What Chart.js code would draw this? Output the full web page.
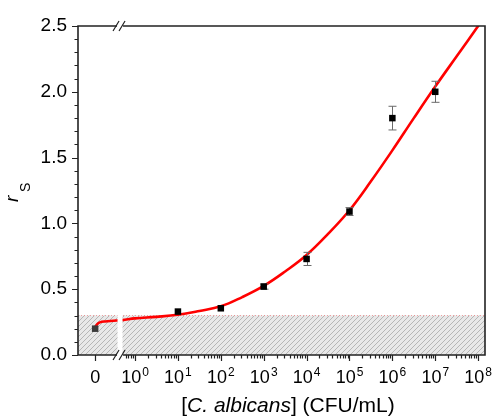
<!DOCTYPE html>
<html><head><meta charset="utf-8">
<script src="https://cdn.jsdelivr.net/npm/chart.js@4/dist/chart.umd.min.js"></script>
<style>html,body{margin:0;padding:0;background:#fff}</style>
</head><body>
<canvas id="c" width="492" height="418"></canvas>
<script>
// ---- data ----
const concentrations = [0, 1e1, 1e2, 1e3, 1e4, 1e5, 1e6, 1e7];      // CFU/mL
const rsValues       = [0.20, 0.33, 0.355, 0.52, 0.73, 1.09, 1.80, 2.00];
const rsErrors       = [0.00, 0.00, 0.00, 0.02, 0.05, 0.03, 0.09, 0.08];
const fitPositions   = [-0.93, -0.88, -0.82, -0.7, -0.5, -0.3, 0, 0.5, 1, 1.5, 2, 2.5, 3, 3.5, 4, 4.5, 5, 5.5, 6, 6.5, 7, 7.5, 8, 8.3]; // log10(conc) axis position
const fitValues      = [0.21, 0.235, 0.248, 0.255, 0.26, 0.265, 0.278, 0.29, 0.306, 0.335, 0.37, 0.44, 0.525, 0.635, 0.76, 0.92, 1.10, 1.32, 1.555, 1.80, 2.04, 2.27, 2.50, 2.64];
const xTickBases     = ['0', '10', '10', '10', '10', '10', '10', '10', '10', '10'];
const xTickExponents = ['', '0', '1', '2', '3', '4', '5', '6', '7', '8'];
const xTickPositions = [-0.93, 0, 1, 2, 3, 4, 5, 6, 7, 8];
const yTickValues    = [0, 0.5, 1.0, 1.5, 2.0, 2.5];
const lodLevel = 0.30;          // shaded background level
const zeroPos = -0.93;          // axis position used for concentration 0
const breakPos = -0.35;         // axis break position
const xMin = -1.33, xMax = 8.16;

const FONT = "'Liberation Sans', Arial, Helvetica, sans-serif";
const toPos = c => c === 0 ? zeroPos : Math.log10(c);

function hatch() {
  const s = 5, c = document.createElement('canvas');
  c.width = s; c.height = s;
  const g = c.getContext('2d');
  g.fillStyle = '#e8e8e8'; g.fillRect(0, 0, s, s);
  g.strokeStyle = '#b0b0b0'; g.lineWidth = 0.9;
  g.beginPath();
  g.moveTo(0, s); g.lineTo(s, 0);
  g.moveTo(-1, 1); g.lineTo(1, -1);
  g.moveTo(s - 1, s + 1); g.lineTo(s + 1, s - 1);
  g.stroke();
  return g.createPattern(c, 'repeat');
}

const decor = {
  id: 'decor',
  beforeDatasetDraw(chart, args) {
    if (args.index !== 2) return;
    const {ctx, scales: {x, y}} = chart;
    ctx.save();
    ctx.strokeStyle = '#6a6a6a'; ctx.lineWidth = 1;
    concentrations.forEach((c, i) => {
      if (!rsErrors[i]) return;
      const px = Math.round(x.getPixelForValue(toPos(c))) + 0.5;
      const y1 = y.getPixelForValue(rsValues[i] + rsErrors[i]);
      const y2 = y.getPixelForValue(rsValues[i] - rsErrors[i]);
      ctx.beginPath();
      ctx.moveTo(px, y1); ctx.lineTo(px, y2);
      ctx.moveTo(px - 4, y1); ctx.lineTo(px + 4, y1);
      ctx.moveTo(px - 4, y2); ctx.lineTo(px + 4, y2);
      ctx.stroke();
    });
    ctx.restore();
  },
  afterDatasetsDraw(chart) {
    const {ctx, chartArea: a, scales: {x, y}} = chart;
    const bx = x.getPixelForValue(breakPos);
    ctx.save();
    // gap in shading / curve at the break
    ctx.fillStyle = '#fff';
    ctx.fillRect(bx - 2.5, y.getPixelForValue(lodLevel) - 1, 5, a.bottom - y.getPixelForValue(lodLevel) + 1);
    // frame
    ctx.strokeStyle = '#222'; ctx.lineWidth = 1.6;
    ctx.beginPath();
    ctx.moveTo(a.left, a.top); ctx.lineTo(a.right, a.top); ctx.lineTo(a.right, a.bottom); ctx.lineTo(a.left, a.bottom); ctx.closePath();
    ctx.stroke();
    // y ticks
    ctx.lineWidth = 1.2;
    ctx.beginPath();
    for (let k = 0; k <= 25; k++) {
      const v = k / 10, py = Math.round(y.getPixelForValue(v)) + 0.5;
      const len = (k % 5 === 0) ? 6 : 3.5;
      ctx.moveTo(a.left, py); ctx.lineTo(a.left - len, py);
    }
    // x major ticks
    xTickPositions.forEach(p => {
      const px = Math.round(x.getPixelForValue(p)) + 0.5;
      ctx.moveTo(px, a.bottom); ctx.lineTo(px, a.bottom + 6);
    });
    // x minor ticks
    for (let d = -1; d <= 8; d++) {
      for (let m = 2; m <= 9; m++) {
        const p = d + Math.log10(m);
        if (p <= breakPos + 0.1 || p >= xMax) continue;
        const px = Math.round(x.getPixelForValue(p)) + 0.5;
        ctx.moveTo(px, a.bottom); ctx.lineTo(px, a.bottom + 3.5);
      }
    }
    ctx.stroke();
    // break marks
    [a.top, a.bottom].forEach(py => {
      ctx.fillStyle = '#fff';
      ctx.fillRect(bx - 3, py - 2, 6, 4);
      ctx.strokeStyle = '#222'; ctx.lineWidth = 1.2;
      ctx.beginPath();
      ctx.moveTo(bx - 7, py + 5); ctx.lineTo(bx - 1, py - 5);
      ctx.moveTo(bx - 1, py + 5); ctx.lineTo(bx + 5, py - 5);
      ctx.stroke();
    });
    // x tick labels with superscript exponents
    ctx.fillStyle = '#000';
    ctx.textBaseline = 'alphabetic';
    ctx.textAlign = 'left';
    xTickPositions.forEach((p, i) => {
      const px = x.getPixelForValue(p);
      ctx.font = '18px ' + FONT;
      const bw = ctx.measureText(xTickBases[i]).width;
      ctx.font = '12px ' + FONT;
      const ew = xTickExponents[i] ? ctx.measureText(xTickExponents[i]).width + 1 : 0;
      const sx = px - (bw + ew) / 2;
      ctx.font = '18px ' + FONT;
      ctx.fillText(xTickBases[i], sx, 383);
      if (xTickExponents[i]) {
        ctx.font = '12px ' + FONT;
        ctx.fillText(xTickExponents[i], sx + bw + 1, 376);
      }
    });
    ctx.restore();
  },
  afterDraw(chart) {
    const {ctx} = chart;
    ctx.save();
    ctx.fillStyle = '#000';
    ctx.textBaseline = 'alphabetic';
    // y title: r_S
    ctx.translate(18, 202);
    ctx.rotate(-Math.PI / 2);
    ctx.font = 'italic 19px ' + FONT;
    ctx.textAlign = 'left';
    ctx.fillText('r', 0, 0);
    ctx.font = '14px ' + FONT;
    ctx.fillText('S', 10, 12);
    ctx.restore();
    // x title
    ctx.save();
    ctx.fillStyle = '#000';
    ctx.textBaseline = 'alphabetic';
    const parts = [['[', ''], ['C. albicans', 'italic '], ['] (CFU/mL)', '']];
    let total = 0;
    parts.forEach(p => { ctx.font = p[1] + '21px ' + FONT; total += ctx.measureText(p[0]).width; });
    let cx = 288 - total / 2;
    parts.forEach(p => { ctx.font = p[1] + '21px ' + FONT; ctx.fillText(p[0], cx, 412); cx += ctx.measureText(p[0]).width; });
    ctx.restore();
  }
};

new Chart(document.getElementById('c'), {
  type: 'scatter',
  data: {
    datasets: [
      {
        type: 'line',
        data: [{x: xMin, y: lodLevel}, {x: xMax, y: lodLevel}],
        fill: 'origin',
        backgroundColor: hatch(),
        borderColor: 'rgba(235,90,90,0.55)',
        borderWidth: 1,
        borderDash: [1, 2],
        pointRadius: 0,
        order: 3
      },
      {
        type: 'line',
        data: fitPositions.map((p, i) => ({x: p, y: fitValues[i]})),
        borderColor: '#ff0000',
        borderWidth: 2.6,
        pointRadius: 0,
        fill: false,
        tension: 0.4,
        order: 2
      },
      {
        type: 'scatter',
        data: concentrations.map((c, i) => ({x: toPos(c), y: rsValues[i]})),
        pointStyle: 'rect',
        pointRadius: 4.6,
        borderWidth: 0,
        backgroundColor: concentrations.map(c => c === 0 ? '#3a3a3a' : '#000'),
        order: 1
      }
    ]
  },
  options: {
    responsive: false,
    animation: false,
    devicePixelRatio: 1,
    layout: {padding: {top: 26, right: 7, left: 0, bottom: 0}},
    plugins: {legend: {display: false}, tooltip: {enabled: false}},
    scales: {
      x: {
        type: 'linear', min: xMin, max: xMax,
        afterBuildTicks: s => { s.ticks = xTickPositions.map(v => ({value: v})); },
        afterFit: s => { s.height = 63; s.paddingLeft = 0; s.paddingRight = 0; },
        grid: {display: false, drawTicks: false},
        border: {display: false},
        ticks: {display: false}
      },
      y: {
        min: 0, max: 2.5,
        afterBuildTicks: s => { s.ticks = yTickValues.map(v => ({value: v})); },
        afterFit: s => { s.width = 78; s.paddingTop = 0; s.paddingBottom = 0; },
        grid: {display: false, drawTicks: false},
        border: {display: false},
        ticks: {
          padding: 11, color: '#000',
          font: {family: FONT, size: 19},
          callback: v => Number(v).toFixed(1)
        }
      }
    }
  },
  plugins: [decor]
});
</script>
</body></html>
